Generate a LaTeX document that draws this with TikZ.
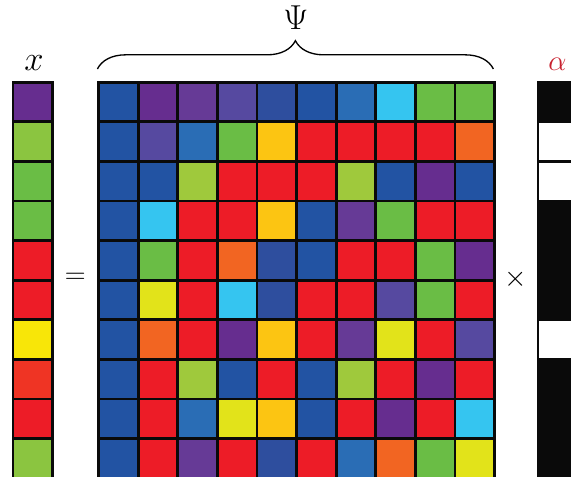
\documentclass[tikz,border=0pt]{standalone}
\usepackage{amsmath}
\usepackage{amssymb}
\usepackage{xcolor}
\usepackage{tikz}
\usetikzlibrary{decorations.pathreplacing}

\definecolor{cB}{RGB}{34,83,163}
\definecolor{cBc}{RGB}{46,78,158}
\definecolor{cBb}{RGB}{42,109,181}
\definecolor{cP}{RGB}{102,45,143}
\definecolor{cPb}{RGB}{102,58,150}
\definecolor{cS}{RGB}{86,73,160}
\definecolor{cC}{RGB}{53,197,240}
\definecolor{cG}{RGB}{106,189,69}
\definecolor{cLG}{RGB}{139,197,64}
\definecolor{cYG}{RGB}{159,201,60}
\definecolor{cY}{RGB}{252,197,18}
\definecolor{cLY}{RGB}{226,227,26}
\definecolor{cXY}{RGB}{248,230,8}
\definecolor{cR}{RGB}{237,28,39}
\definecolor{cXR}{RGB}{239,52,36}
\definecolor{cO}{RGB}{242,101,34}
\definecolor{cK}{RGB}{10,10,10}
\definecolor{alphared}{RGB}{200,32,46}

\begin{document}
\begin{tikzpicture}[cell/.style={draw=cK, line width=2pt}]
\useasboundingbox (0,0) rectangle (14.42,-12.045);
\clip (0,0) rectangle (14.42,-12.045);
% x: column vector
\foreach \c [count=\i from 0] in {cP,cLG,cG,cG,cR,cR,cXY,cXR,cR,cLG}
  \filldraw[cell, fill=\c] (0.33,-2.078-\i) rectangle ++(1,-1);
\node[anchor=base] (xlab) at (0.86,-1.79) {\Huge $x$};
% Psi: 10 x 10 matrix, one row per line
\foreach \r [count=\i from 0] in {
  {cB,cP,cPb,cS,cBc,cB,cBb,cC,cG,cG},
  {cB,cS,cBb,cG,cY,cR,cR,cR,cR,cO},
  {cB,cB,cYG,cR,cR,cR,cYG,cB,cP,cB},
  {cB,cC,cR,cR,cY,cB,cPb,cG,cR,cR},
  {cB,cG,cR,cO,cBc,cB,cR,cR,cG,cP},
  {cB,cLY,cR,cC,cBc,cR,cR,cS,cG,cR},
  {cB,cO,cR,cP,cY,cR,cPb,cLY,cR,cS},
  {cB,cR,cYG,cB,cR,cB,cYG,cR,cP,cR},
  {cB,cR,cBb,cLY,cY,cB,cR,cP,cR,cC},
  {cB,cR,cPb,cR,cBc,cR,cBb,cO,cG,cLY}}
  \foreach \c [count=\j from 0] in \r
    \filldraw[cell, fill=\c] (2.49+\j,-2.078-\i) rectangle ++(1,-1);
\coordinate (bl) at (2.46,-1.742);
\coordinate (br) at (12.46,-1.742);
\draw[line width=0.95pt, decorate, decoration={brace, amplitude=0.715cm}] (bl) -- (br);
\node[anchor=base] (psi) at (7.47,-0.74) {\Huge $\Psi$};
% alpha: sparse column, white = nonzero
\foreach \c [count=\i from 0] in {cK,white,white,cK,cK,cK,white,cK,cK,cK}
  \filldraw[cell, fill=\c] (13.586,-2.078-\i) rectangle ++(1,-1);
\node[anchor=base] (alab) at (14.08,-1.79) {\huge $\color{alphared}\alpha$};
% operators
\node (eq) at (1.9,-7.02) {\huge $=$};
\node (times) at (13.03,-7.045) {\huge $\times$};
\end{tikzpicture}
\end{document}
